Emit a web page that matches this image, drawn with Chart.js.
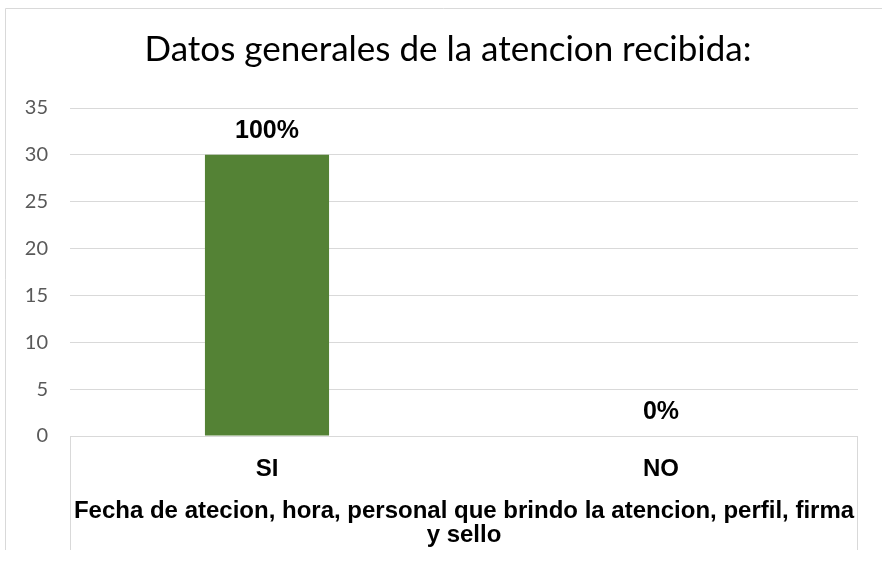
<!DOCTYPE html>
<html>
<head>
<meta charset="utf-8">
<title>Datos generales de la atencion recibida</title>
<script src="https://cdn.jsdelivr.net/npm/chart.js@4/dist/chart.umd.min.js"></script>
<style>
    html, body { margin: 0; padding: 0; background: #ffffff; }
    #wrap { width: 882px; height: 561px; position: relative; }
</style>
</head>
<body>
<div id="wrap"><canvas id="atencionChart" width="882" height="561"></canvas></div>
<script>
// Chart data
const categories = ['SI', 'NO'];
const counts = [30, 0];
const percentLabels = ['100%', '0%'];
const yTicks = [0, 5, 10, 15, 20, 25, 30, 35];

const chartTitle = 'Datos generales de la atencion recibida:';
const axisTitle = [
    'Fecha de atecion, hora, personal que brindo la atencion, perfil, firma',
    'y sello'
];

const gridColor = '#d9d9d9';
const barColor = '#548235';

// Draws the outer chart border, the box around the category area and the title
const framePlugin = {
    id: 'frame',
    beforeDraw(chart) {
        const { ctx, chartArea } = chart;
        const boxBottom = chart.height - 11;
        ctx.save();
        ctx.strokeStyle = gridColor;
        ctx.lineWidth = 1;
        ctx.beginPath();
        // outer border (left + top)
        ctx.moveTo(5.5, boxBottom);
        ctx.lineTo(5.5, 8.5);
        ctx.lineTo(chart.width, 8.5);
        // category box sides
        ctx.moveTo(chartArea.left + 0.5, chartArea.bottom);
        ctx.lineTo(chartArea.left + 0.5, boxBottom);
        ctx.moveTo(chartArea.right - 0.5, chartArea.bottom);
        ctx.lineTo(chartArea.right - 0.5, boxBottom);
        ctx.stroke();

        // title, centred on the whole chart object (which runs past the right edge)
        ctx.font = '35px Lato, sans-serif';
        ctx.fillStyle = '#000000';
        ctx.textAlign = 'center';
        ctx.textBaseline = 'middle';
        ctx.fillText(chartTitle, chart.width / 2 + 7, 50);
        ctx.restore();
    }
};

// Percent labels above each bar
const percentPlugin = {
    id: 'percentLabels',
    afterDatasetsDraw(chart) {
        const { ctx } = chart;
        const meta = chart.getDatasetMeta(0);
        ctx.save();
        ctx.font = 'bold 25px "Liberation Sans", Arial, sans-serif';
        ctx.fillStyle = '#000000';
        ctx.textAlign = 'center';
        ctx.textBaseline = 'middle';
        meta.data.forEach((bar, i) => {
            ctx.fillText(percentLabels[i], bar.x, bar.y - 24);
        });
        ctx.restore();
    }
};

document.addEventListener('DOMContentLoaded', () => {
    const ctx = document.getElementById('atencionChart').getContext('2d');

    new Chart(ctx, {
        type: 'bar',
        data: {
            labels: categories,
            datasets: [{
                data: counts,
                backgroundColor: barColor,
                borderWidth: 0,
                barPercentage: 1,
                categoryPercentage: 0.315
            }]
        },
        options: {
            responsive: false,
            animation: false,
            layout: { padding: { left: 0, right: 24, top: 108, bottom: 0 } },
            plugins: {
                legend: { display: false },
                tooltip: { enabled: false },
                title: { display: false }
            },
            scales: {
                x: {
                    grid: { display: false },
                    border: { display: false },
                    ticks: {
                        color: '#000000',
                        padding: 11,
                        font: { family: '"Liberation Sans", Arial, sans-serif', size: 24, weight: 'bold' }
                    },
                    title: {
                        display: true,
                        text: axisTitle,
                        color: '#000000',
                        font: { family: '"Liberation Sans", Arial, sans-serif', size: 24, weight: 'bold', lineHeight: 1 },
                        padding: { top: 0, bottom: 14 }
                    },
                    afterFit(scale) { scale.height = 125; }
                },
                y: {
                    min: 0,
                    max: 35,
                    afterBuildTicks(scale) {
                        scale.ticks = yTicks.map(v => ({ value: v }));
                    },
                    grid: { color: gridColor, lineWidth: 1, drawTicks: false },
                    border: { display: false },
                    ticks: {
                        color: '#595959',
                        padding: 22,
                        font: { family: 'Lato', size: 20 }
                    },
                    afterFit(scale) { scale.width = 70; }
                }
            }
        },
        plugins: [framePlugin, percentPlugin]
    });
});
</script>
</body>
</html>
